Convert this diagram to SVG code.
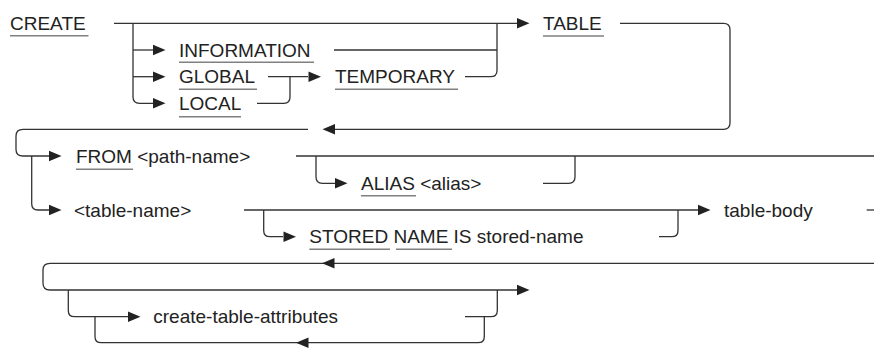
<svg xmlns="http://www.w3.org/2000/svg" xmlns:xlink="http://www.w3.org/1999/xlink" width="874" height="350" viewBox="0 0 874 350">
<style>
  .t { font-family: "Liberation Sans", Arial, sans-serif; font-size: 19px; fill: #222; }
  .u { stroke: #808080; stroke-width: 1.6; fill: none; }
  .c { stroke: #333; stroke-width: 1.3; fill: none; }
  .a { fill: #222; }
</style>
<defs>
  <path id="ar" d="M0,0 L-12.5,-5.2 L-12.5,5.2 Z"/>
  <path id="al" d="M0,0 L12.5,-5.2 L12.5,5.2 Z"/>
</defs>
<rect width="874" height="350" fill="#fff"/>

<g id="connectors">
  <!-- row 1 -->
  <path class="c" d="M114,23.3 H517"/>
  <path class="c" d="M133,23.3 V97 Q133,103.3 139.5,103.3 H153"/>
  <path class="c" d="M133,50 H153"/>
  <path class="c" d="M133,76.7 H153"/>
  <path class="c" d="M334,50 H497"/>
  <path class="c" d="M465,76.7 H490.5 Q497,76.7 497,70.5 V23.3"/>
  <path class="c" d="M268,76.7 H308"/>
  <path class="c" d="M257,103.3 H284 Q290,103.3 290,97 V76.7"/>
  <path class="c" d="M620,23.3 H723.5 Q730,23.3 730,29.8 V122.8 Q730,129.3 723.5,129.3 H335"/>
  <path class="c" d="M308,129.3 H23 Q16,129.3 16,136 V149.5 Q16,156 23,156 H49"/>
  <!-- row 2 -->
  <path class="c" d="M31.7,156 V203.7 Q31.7,210 38,210 H49"/>
  <path class="c" d="M296,156 H874"/>
  <path class="c" d="M316,156 V177 Q316,183.3 322.3,183.3 H335"/>
  <path class="c" d="M543,183.3 H568.7 Q575,183.3 575,177 V156"/>
  <path class="c" d="M244,210 H698"/>
  <path class="c" d="M263.7,210 V230.4 Q263.7,236.7 270,236.7 H283"/>
  <path class="c" d="M659,236.7 H671.7 Q678,236.7 678,230.4 V210"/>
  <path class="c" d="M866.7,210 H874"/>
  <!-- row 3 -->
  <path class="c" d="M874,263.3 H50 Q43,263.3 43,270 V283.3 Q43,290 50,290 H517"/>
  <path class="c" d="M68.3,290 V310.4 Q68.3,316.7 74.6,316.7 H128"/>
  <path class="c" d="M465,316.7 H491 Q497.3,316.7 497.3,310.4 V290"/>
  <path class="c" d="M484.3,316.7 V336.4 Q484.3,342.7 478,342.7 H101.3 Q95,342.7 95,336.4 V316.7"/>
  <!-- arrowheads -->
  <g class="a">
    <use xlink:href="#ar" x="165.5" y="50"/>
    <use xlink:href="#ar" x="165.5" y="76.7"/>
    <use xlink:href="#ar" x="165.5" y="103.3"/>
    <use xlink:href="#ar" x="321" y="76.7"/>
    <use xlink:href="#ar" x="529.5" y="23.3"/>
    <use xlink:href="#al" x="322.5" y="129.3"/>
    <use xlink:href="#ar" x="61.5" y="156"/>
    <use xlink:href="#ar" x="61.5" y="210"/>
    <use xlink:href="#ar" x="347.5" y="183.3"/>
    <use xlink:href="#ar" x="296" y="236.7"/>
    <use xlink:href="#ar" x="710.5" y="210"/>
    <use xlink:href="#al" x="322" y="263.3"/>
    <use xlink:href="#ar" x="529.5" y="290"/>
    <use xlink:href="#ar" x="140.5" y="316.7"/>
    <use xlink:href="#al" x="296" y="342.7"/>
  </g>
</g>

<g id="create">
  <text class="t" x="10" y="29.8">CREATE</text>
  <line class="u" x1="10" y1="35.7" x2="88.5" y2="35.7"/>
</g>
<g id="information">
  <text class="t" x="179" y="56.5">INFORMATION</text>
  <line class="u" x1="179" y1="62.3" x2="314" y2="62.3"/>
</g>
<g id="global">
  <text class="t" x="179" y="83.2">GLOBAL</text>
  <line class="u" x1="179" y1="89.3" x2="257" y2="89.3"/>
</g>
<g id="local">
  <text class="t" x="179" y="109.8">LOCAL</text>
  <line class="u" x1="179" y1="116.7" x2="241" y2="116.7"/>
</g>
<g id="temporary">
  <text class="t" x="335" y="83.2">TEMPORARY</text>
  <line class="u" x1="335" y1="89.3" x2="458" y2="89.3"/>
</g>
<g id="table">
  <text class="t" x="543" y="29.8">TABLE</text>
  <line class="u" x1="543" y1="36" x2="604" y2="36"/>
</g>
<g id="from">
  <text class="t" x="76" y="162.5">FROM &lt;path-name&gt;</text>
  <line class="u" x1="76" y1="169.3" x2="133" y2="169.3"/>
</g>
<g id="alias">
  <text class="t" x="361" y="189.8">ALIAS &lt;alias&gt;</text>
  <line class="u" x1="361" y1="195.7" x2="416" y2="195.7"/>
</g>
<g id="table-name">
  <text class="t" x="74" y="216.5">&lt;table-name&gt;</text>
</g>
<g id="stored-name">
  <text class="t" x="309.3" y="243.2">STORED NAME IS stored-name</text>
  <line class="u" x1="309.3" y1="249.3" x2="390" y2="249.3"/>
  <line class="u" x1="396" y1="249.3" x2="452" y2="249.3"/>
</g>
<g id="table-body">
  <text class="t" x="724" y="216.5">table-body</text>
</g>
<g id="create-table-attributes">
  <text class="t" x="153.3" y="323.2">create-table-attributes</text>
</g>
</svg>
